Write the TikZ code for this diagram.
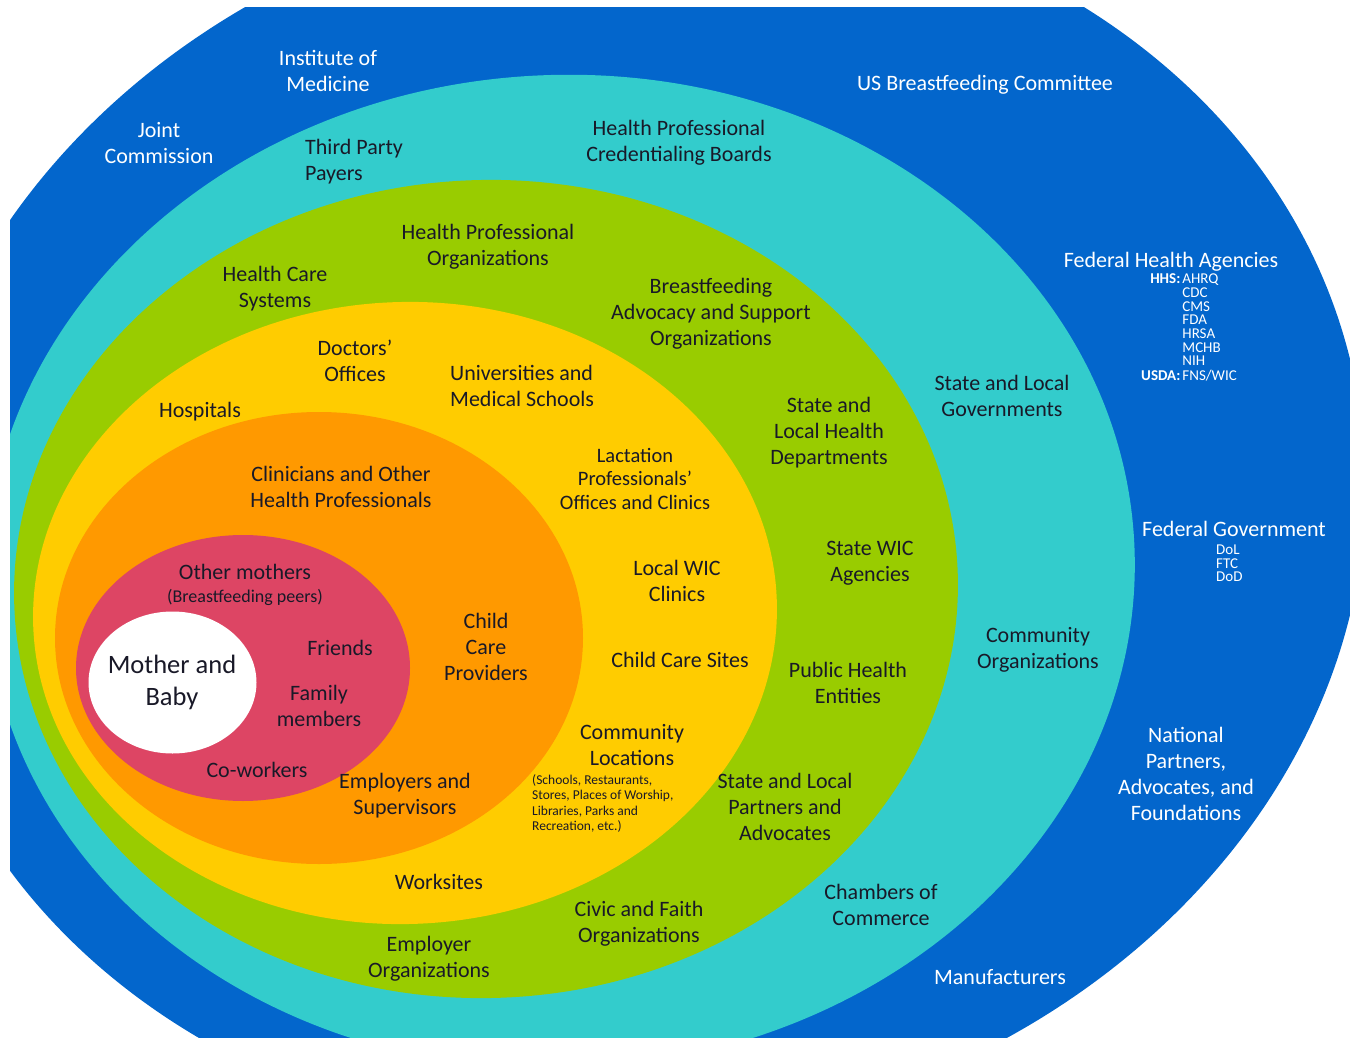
\documentclass[tikz,border=0pt]{standalone}
\usepackage{fontspec}
\setmainfont{Carlito}
\definecolor{ringblue}{RGB}{3,102,204}
\definecolor{ringteal}{RGB}{51,204,204}
\definecolor{ringgreen}{RGB}{153,204,0}
\definecolor{ringyellow}{RGB}{255,204,0}
\definecolor{ringorange}{RGB}{255,153,0}
\definecolor{ringred}{RGB}{221,69,100}
\definecolor{ink}{RGB}{25,25,40}
\tikzset{
  lbl/.style={align=center, inner sep=0pt, text=ink,
    font=\fontsize{22}{26}\selectfont},
  wlbl/.style={lbl, text=white},
  tinylbl/.style={lbl, font=\fontsize{13.5}{15.6}\selectfont},
  agency/.style={wlbl, font=\fontsize{15}{13.4}\selectfont}
}

\begin{document}
\begin{tikzpicture}[x=1pt,y=-1pt]
\useasboundingbox (0,0) rectangle (1350,1038);
\begin{scope}
\clip (10,8) rectangle (1350,1038);
\fill[ringblue, rotate around={8.9:(634,518)}] (634,518) ellipse [x radius=734pt, y radius=621pt];
\fill[ringteal, rotate around={3:(560,572)}] (560,572) ellipse [x radius=575pt, y radius=497pt];
\fill[ringgreen, rotate around={2:(486,589)}] (486,589) ellipse [x radius=472pt, y radius=409pt];
\fill[ringyellow, rotate around={2:(405,613)}] (405,613) ellipse [x radius=372pt, y radius=311pt];
\fill[ringorange] (319,638) ellipse [x radius=264pt, y radius=226pt];
\fill[ringred] (243,668) ellipse [x radius=167pt, y radius=133pt];
\fill[white] (172.5,682.5) ellipse [x radius=84pt, y radius=71pt];
\end{scope}

% outer ring
\node[wlbl] (iom) at (328,71) {Institute of\\Medicine};
\node[wlbl] (joint) at (159,143) {Joint\\Commission};
\node[wlbl] (usbc) at (985,85) {US Breastfeeding Committee};
\node[wlbl] (fedhealth) at (1171,262) {Federal Health Agencies};
\node[agency] (hhs) at (1189,329) {\begin{tabular}{@{}r@{\hspace{2pt}}l@{}}
  \textbf{HHS:} & AHRQ\\ & CDC\\ & CMS\\ & FDA\\ & HRSA\\ & MCHB\\ & NIH\\
  \textbf{USDA:} & FNS/WIC\end{tabular}};
\node[wlbl] (fedgov) at (1234,529) {Federal Government};
\node[agency, align=left, anchor=west] (fedlist) at (1216,563.5) {DoL\\FTC\\DoD};
\node[wlbl] (natl) at (1186,773.5) {National\\Partners,\\Advocates, and\\Foundations};
\node[wlbl] (manuf) at (1000,977) {Manufacturers};

% teal ring
\node[lbl, align=left, anchor=west] (payers) at (305,162) {Third Party\\Payers};
\node[lbl] (credboards) at (679,143) {Health Professional\\Credentialing Boards};
\node[lbl] (stategov) at (1002,396) {State and Local\\Governments};
\node[lbl] (commorg) at (1038,649.5) {Community\\Organizations};
\node[lbl] (chambers) at (881,904.5) {Chambers of\\Commerce};

% green ring
\node[lbl] (hcsys) at (275,289) {Health Care\\Systems};
\node[lbl] (hporg) at (488,247) {Health Professional\\Organizations};
\node[lbl] (bfadv) at (711,314) {Breastfeeding\\Advocacy and Support\\Organizations};
\node[lbl] (slhd) at (829,432.5) {State and\\Local Health\\Departments};
\node[lbl] (statewic) at (870,563.5) {State WIC\\Agencies};
\node[lbl] (pubhealth) at (848,682.5) {Public Health\\Entities};
\node[lbl] (slpartners) at (785,806.5) {State and Local\\Partners and\\Advocates};
\node[lbl] (civic) at (639,924) {Civic and Faith\\Organizations};
\node[lbl] (emporg) at (429,959) {Employer\\Organizations};

% yellow ring
\node[lbl] (doctors) at (355,361) {Doctors'\\Offices};
\node[lbl] (hospitals) at (200,412) {Hospitals};
\node[lbl, align=left, anchor=west] (univ) at (450,385.5) {Universities and\\Medical Schools};
\node[lbl, font=\fontsize{20.5}{23.5}\selectfont] (lactation) at (635,478.5) {Lactation\\Professionals'\\Offices and Clinics};
\node[lbl] (localwic) at (677,580.5) {Local WIC\\Clinics};
\node[lbl] (ccsites) at (680,660) {Child Care Sites};
\node[lbl] (commloc) at (632,745) {Community\\Locations};
\node[tinylbl, align=left, anchor=west] (commlist) at (532,803.5) {(Schools, Restaurants,\\Stores, Places of Worship,\\Libraries, Parks and\\Recreation, etc.)};
\node[lbl] (worksites) at (439,882) {Worksites};

% orange ring
\node[lbl] (clinicians) at (341,486.5) {Clinicians and Other\\Health Professionals};
\node[lbl] (ccprov) at (486,646.5) {Child\\Care\\Providers};
\node[lbl] (employers) at (405,796) {Employers and\\Supervisors};

% red ring
\node[lbl] (othermothers) at (245,572) {Other mothers};
\node[lbl, font=\fontsize{18}{21}\selectfont] (bfpeers) at (245,597) {(Breastfeeding peers)};
\node[lbl] (friends) at (340,648) {Friends};
\node[lbl] (family) at (319,705.5) {Family\\members};
\node[lbl] (coworkers) at (257,770) {Co-workers};

\node[lbl, font=\fontsize{26.5}{32}\selectfont] (mombaby) at (172,682) {Mother and\\Baby};
\end{tikzpicture}
\end{document}
